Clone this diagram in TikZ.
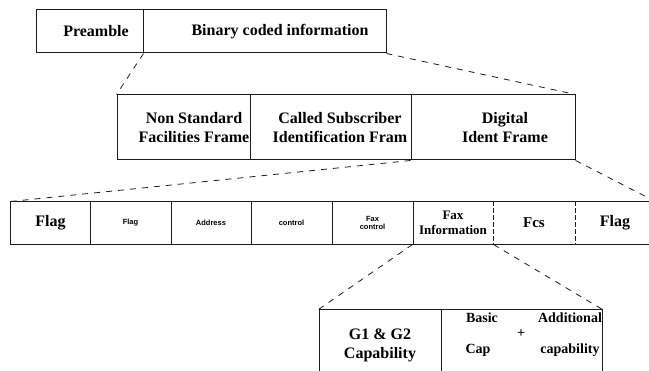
\documentclass[tikz,border=0pt]{standalone}
\usepackage{fontspec}
\setmainfont{Liberation Serif}
\setsansfont{Liberation Sans}
\usetikzlibrary{positioning}
\definecolor{panel}{HTML}{FFFFFF}
\definecolor{ink}{HTML}{1C1C1C}
\tikzset{
  font=\bfseries\fontsize{16}{19}\selectfont,
  cell/.style={draw=ink, line width=1pt, inner sep=0pt, align=center},
  toprow/.style={cell, minimum height=43},
  midrow/.style={cell, minimum height=65},
  fieldrow/.style={cell, draw=none, minimum height=42},
  caprow/.style={cell, minimum height=70},
  txt/.style={align=center, inner sep=0pt},
  tiny/.style={font=\sffamily\bfseries\fontsize{7.5}{8.5}\selectfont},
  mid/.style={font=\bfseries\fontsize{13}{15}\selectfont},
  sm/.style={inner sep=0pt, font=\bfseries\fontsize{14}{16}\selectfont},
  frame/.style={draw=ink, line width=1pt},
  split/.style={draw=ink, line width=.9pt, dash pattern=on 5pt off 2pt},
  zoomline/.style={draw=ink, line width=.8pt, dash pattern=on 6pt off 6pt}
}

\begin{document}
\begin{tikzpicture}[x=1pt,y=-1pt]
  \useasboundingbox (0,0) rectangle (649,371);
  \path[fill=panel] (0,0) rectangle (649,371);

  % -------------------------------------------------------------------
  % Outer frame: preamble + binary coded information.
  \node[toprow, minimum width=107] (pre) at (89.5,31.5) {};
  \node[toprow, minimum width=243] (bin) at (264.5,31.5) {};
  \node[txt] (preT) at (96,31.5) {Preamble};
  \node[txt] (binT) at (280,31.5) {Binary coded information};

  % -------------------------------------------------------------------
  % Binary coded information, expanded.
  \node[midrow, minimum width=133] (nsf) at (183.5,127.5) {};
  \node[midrow, minimum width=161] (csi) at (330.5,127.5) {};
  \node[midrow, minimum width=164] (dis) at (493,127.5) {};
  \node[txt] (nsfT) at (194,127.5) {Non Standard\\Facilities Frame};
  \node[txt] (csiT) at (340,127.5) {Called Subscriber\\Identification Fram};
  \node[txt] (disT) at (505,127.5) {Digital\\Ident Frame};

  \draw[zoomline] (pre.south east) -- (nsf.north west);
  \draw[zoomline] (bin.south east) -- (dis.north east);

  % -------------------------------------------------------------------
  % Digital ident frame, field by field.
  \node[fieldrow, minimum width=79] (flagA) at (50.5,223) {Flag};
  \node[fieldrow, minimum width=81, tiny] (flagB) at (130.5,223) {Flag};
  \node[fieldrow, minimum width=80, tiny] (addr) at (211,223) {Address};
  \node[fieldrow, minimum width=81, tiny] (ctrl) at (291.5,223) {control};
  \node[fieldrow, minimum width=81, tiny] (faxc) at (372.5,223) {Fax\\control};
  \node[fieldrow, minimum width=80, mid] (faxi) at (453,223) {Fax\\Information};
  \node[fieldrow, minimum width=82, font=\bfseries\fontsize{15}{17}\selectfont]
    (fcs) at (534,223) {Fcs};
  \node[fieldrow, minimum width=80] (flagC) at (615,223) {Flag};
  \draw[frame] (flagA.north west) rectangle (flagC.south east);
  \foreach \c in {flagA,flagB,addr,ctrl,faxc}
    \draw[frame] (\c.north east) -- (\c.south east);
  \foreach \c in {faxi,fcs}
    \draw[split] (\c.north east) -- (\c.south east);

  \draw[zoomline] (dis.south west) -- (flagA.north west);
  \draw[zoomline] (dis.south east) -- (flagC.north east);

  % -------------------------------------------------------------------
  % Fax information: capabilities.
  \node[caprow, minimum width=122] (g12) at (380,345) {G1 \& G2\\Capability};
  \node[caprow, minimum width=161] (caps) at (521.5,345) {};
  \node[sm] (basicT) at (482,318) {Basic};
  \node[sm] (addT) at (570,318) {Additional};
  \node[sm] (plusT) at (521,334) {+};
  \node[sm] (capT) at (478,350) {Cap};
  \node[sm] (capaT) at (570,350) {capability};

  \draw[zoomline] (faxi.south west) -- (g12.north west);
  \draw[zoomline] (faxi.south east) -- (caps.north east);
\end{tikzpicture}
\end{document}
